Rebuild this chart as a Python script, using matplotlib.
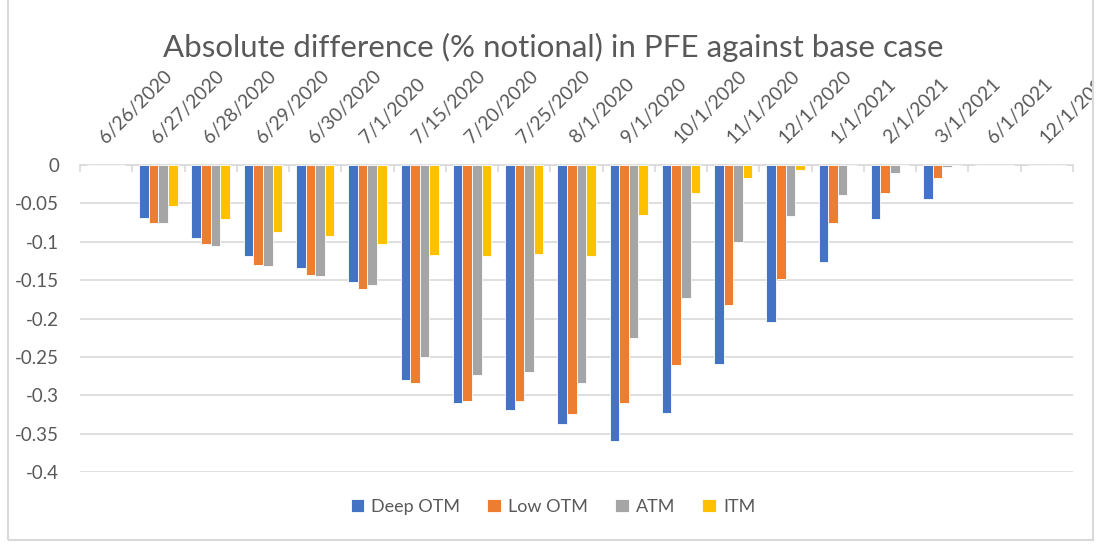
import numpy as np
import matplotlib
matplotlib.use('Agg')
import matplotlib.pyplot as plt
from matplotlib.patches import Rectangle

plt.rcParams['font.family'] = ['Lato', 'DejaVu Sans']

#Data
dates = ['6/26/2020', '6/27/2020', '6/28/2020', '6/29/2020', '6/30/2020', '7/1/2020',
         '7/15/2020', '7/20/2020', '7/25/2020', '8/1/2020', '9/1/2020', '10/1/2020',
         '11/1/2020', '12/1/2020', '1/1/2021', '2/1/2021', '3/1/2021', '6/1/2021', '12/1/2021']

deep_otm = [0, -0.069, -0.095, -0.119, -0.134, -0.153, -0.280, -0.310, -0.319, -0.337,
            -0.359, -0.323, -0.259, -0.204, -0.127, -0.071, -0.044, -0.0004, 0]
low_otm = [0, -0.075, -0.103, -0.130, -0.143, -0.162, -0.284, -0.307, -0.308, -0.325,
           -0.310, -0.261, -0.182, -0.148, -0.076, -0.037, -0.0165, -0.0004, 0]
atm = [0, -0.076, -0.105, -0.131, -0.145, -0.157, -0.250, -0.273, -0.270, -0.284,
       -0.226, -0.173, -0.100, -0.067, -0.039, -0.011, -0.003, 0, 0]
itm = [0, -0.054, -0.071, -0.087, -0.093, -0.103, -0.117, -0.119, -0.116, -0.118,
       -0.065, -0.036, -0.0165, -0.006, -0.0006, -0.0005, -0.0005, 0, 0]

series = [deep_otm, low_otm, atm, itm]
names = ['Deep OTM', 'Low OTM', 'ATM', 'ITM']
colors = ['#4472C4', '#ED7D31', '#A5A5A5', '#FFC000']

W, H = 1100, 548
fig = plt.figure(figsize=(W/100, H/100), dpi=100)
ax = fig.add_axes([80/W, 1-472/H, (1073-80)/W, (472-165)/H])

x = np.arange(len(dates))
bw = 0.1835
for i in range(4):
    ax.bar(x + (i-1.5)*bw, series[i], bw, color=colors[i], edgecolor='white',
           linewidth=0.6, label=names[i], zorder=3)

ax.set_xlim(-0.5, len(dates)-0.5)
ax.set_ylim(-0.4, 0)
ax.set_yticks(np.arange(-0.4, 0.001, 0.05))
ax.set_yticklabels(['-0.4', '-0.35', '-0.3', '-0.25', '-0.2', '-0.15', '-0.1', '-0.05', '0'])
ax.grid(axis='y', color='#d9d9d9', linewidth=1.2, zorder=0)
ax.set_axisbelow(True)
for s in ['left', 'right', 'bottom']:
    ax.spines[s].set_visible(False)
ax.spines['top'].set_color('#d9d9d9')
ax.spines['top'].set_linewidth(1.2)

ax.tick_params(axis='y', length=0, pad=15, labelsize=13.5, labelcolor='#595959')

#date labels on top of the axis
ax.xaxis.tick_top()
ax.set_xticks(x)
ax.set_xticklabels(dates, rotation=45, ha='left', va='baseline', rotation_mode='anchor')
ax.tick_params(axis='x', which='major', length=0, pad=15, labelsize=13.8, labelcolor='#595959')
ax.set_xticks(np.arange(-0.5, len(dates), 1), minor=True)
ax.tick_params(axis='x', which='minor', direction='in', length=5, color='#d9d9d9', width=1.2,
               top=True, bottom=False)

fig.text(553/W, 1-47/H, 'Absolute difference (% notional) in PFE against base case',
         ha='center', va='center', fontsize=22.5, color='#595959')

fig.legend(loc='center', bbox_to_anchor=(553/W, 1-507/H), ncol=4, frameon=False,
           fontsize=13, handlelength=0.75, handleheight=0.75, handletextpad=0.4,
           columnspacing=1.5, labelcolor='#595959')

#chart border, the last label is cut by it
fig.patches.append(Rectangle((1094/W, 0), 1, 1, transform=fig.transFigure,
                             facecolor='white', edgecolor='none', zorder=10))
fig.patches.append(Rectangle((8/W, 8/H), (1093-8)/W, 1.2, transform=fig.transFigure,
                             fill=False, edgecolor='#d9d9d9', linewidth=1.5, zorder=11))

plt.savefig('out.png', dpi=100)
